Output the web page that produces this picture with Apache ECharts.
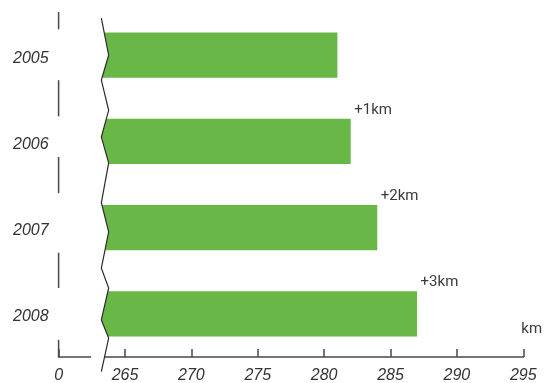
<!DOCTYPE html>
<html>
<head>
<meta charset="utf-8">
<script src="https://cdn.jsdelivr.net/npm/echarts@6/dist/echarts.min.js"></script>
<style>
  html, body { margin: 0; padding: 0; background: #fff; }
  #chart { width: 545px; height: 383px; }
</style>
</head>
<body>
<div id="chart"></div>
<script>
// Network length per year, in km
const YEARS = ['2005', '2006', '2007', '2008'];
const LENGTH_KM = [281, 282, 284, 287];

// Value scale: the first tick stands for zero, the range below 265 is cut out
const X_MIN = 260, X_MAX = 295, X_STEP = 5;
const X_TICK_LABELS = ['0', '265', '270', '275', '280', '285', '290', '295'];
const UNIT = 'km';

// Zigzag cut across the bars: [axis value, offset in category units]
const CUT_L = 263.22, CUT_R = 263.77;
const CUT_PATH = [
  [CUT_L, -0.43], [CUT_R, 0.0], [CUT_L, 0.29], [CUT_R, 0.64],
  [CUT_L, 0.95], [CUT_R, 1.25], [CUT_L, 1.71], [CUT_R, 2.05],
  [CUT_L, 2.47], [CUT_R, 2.70], [CUT_L, 3.07], [CUT_R, 3.28],
  [CUT_L, 3.67]
];
const AXIS_GAP_START = 262.45;
// Short pieces of the left axis line, in category units
const Y_STUBS = [[-0.5, -0.30], [0.29, 0.71], [1.18, 1.60], [2.29, 2.70], [3.30, 3.50]];

const BAR_COLOR = '#69b847';
const INK = '#333333';
const AXIS_COLOR = '#474747';
const BAR_FRACTION = 0.522;

function cutPixels(api) {
  const band = api.size([0, 1])[1];
  const y0 = api.coord([X_MIN, 0])[1];
  return CUT_PATH.map(([v, p]) => [api.coord([v, 0])[0], y0 + p * band]);
}

function xAlong(path, y) {
  for (let k = 0; k < path.length - 1; k++) {
    const a = path[k], b = path[k + 1];
    if (y >= a[1] && y <= b[1]) {
      const t = (y - a[1]) / (b[1] - a[1]);
      return a[0] + (b[0] - a[0]) * t;
    }
  }
  return path[0][0];
}

function renderBar(params, api) {
  const i = params.dataIndex;
  const end = api.coord([api.value(0), i]);
  const band = api.size([0, 1])[1];
  const half = band * BAR_FRACTION / 2;
  const top = end[1] - half, bottom = end[1] + half;
  const cut = cutPixels(api);
  const pts = [[xAlong(cut, top), top]];
  cut.forEach(pt => { if (pt[1] > top && pt[1] < bottom) pts.push(pt); });
  pts.push([xAlong(cut, bottom), bottom], [end[0], bottom], [end[0], top]);
  const children = [{ type: 'polygon', shape: { points: pts }, style: { fill: BAR_COLOR } }];
  if (i > 0) {
    children.push({
      type: 'text',
      style: {
        text: '+' + (LENGTH_KM[i] - LENGTH_KM[i - 1]) + UNIT,
        x: end[0] + 3.5, y: top - 9,
        align: 'left', verticalAlign: 'middle',
        fill: '#3a3a3a', fontSize: 15, fontFamily: 'Roboto'
      }
    });
  }
  return { type: 'group', children };
}

function renderFrame(params, api) {
  const band = api.size([0, 1])[1];
  const c0 = api.coord([X_MIN, 0]);
  const yAt = p => c0[1] + p * band;
  const xOf = v => api.coord([v, 0])[0];
  const cut = cutPixels(api);
  const baseY = yAt(YEARS.length - 0.5);
  const children = [];
  Y_STUBS.forEach(([a, b]) => children.push({
    type: 'line',
    shape: { x1: c0[0], y1: yAt(a), x2: c0[0], y2: yAt(b) },
    style: { stroke: AXIS_COLOR, lineWidth: 1.5 }
  }));
  children.push({
    type: 'line',
    shape: { x1: c0[0] - 0.75, y1: baseY, x2: xOf(AXIS_GAP_START), y2: baseY },
    style: { stroke: AXIS_COLOR, lineWidth: 1.5 }
  });
  children.push({
    type: 'line',
    shape: { x1: xAlong(cut, baseY), y1: baseY, x2: xOf(X_MAX) + 0.75, y2: baseY },
    style: { stroke: AXIS_COLOR, lineWidth: 1.5 }
  });
  children.push({
    type: 'polyline',
    shape: { points: cut },
    style: { stroke: '#2b2b2b', lineWidth: 1.2, fill: null }
  });
  return { type: 'group', children };
}

const chart = echarts.init(document.getElementById('chart'), null, { renderer: 'canvas' });
chart.setOption({
  animation: false,
  backgroundColor: '#ffffff',
  grid: { left: 58.6, right: 21.7, top: 12, bottom: 26, containLabel: false, outerBoundsMode: 'none' },
  xAxis: {
    type: 'value',
    min: X_MIN, max: X_MAX, interval: X_STEP,
    splitLine: { show: false },
    axisLine: { show: false },
    axisTick: { show: true, inside: true, length: 8, lineStyle: { color: AXIS_COLOR, width: 1.5 } },
    axisLabel: {
      formatter: (v, idx) => X_TICK_LABELS[idx],
      color: INK, fontSize: 16, fontStyle: 'italic', fontFamily: 'Liberation Sans', margin: 11
    },
    name: UNIT,
    nameLocation: 'end',
    nameGap: 0,
    nameTextStyle: { color: '#3a3a3a', fontSize: 15, fontFamily: 'Roboto', align: 'left', verticalAlign: 'bottom', padding: [0, 0, 20, -2] }
  },
  yAxis: {
    type: 'category',
    data: YEARS,
    inverse: true,
    axisLine: { show: false },
    axisTick: { show: false },
    splitLine: { show: false },
    axisLabel: {
      margin: 10,
      formatter: v => '{yr|' + v + '}',
      rich: {
        yr: {
          color: INK, fontSize: 16, fontStyle: 'italic', fontFamily: 'Liberation Sans',
          padding: [6, 0, 0, 0]
        }
      }
    }
  },
  series: [
    {
      type: 'custom',
      z: 2,
      encode: { x: 0, y: 1 },
      data: LENGTH_KM.map((v, i) => [v, i]),
      renderItem: renderBar
    },
    {
      type: 'custom',
      z: 3,
      encode: { x: 0, y: 1 },
      data: [[X_MIN, 0]],
      renderItem: renderFrame,
      silent: true
    }
  ]
});
</script>
</body>
</html>
